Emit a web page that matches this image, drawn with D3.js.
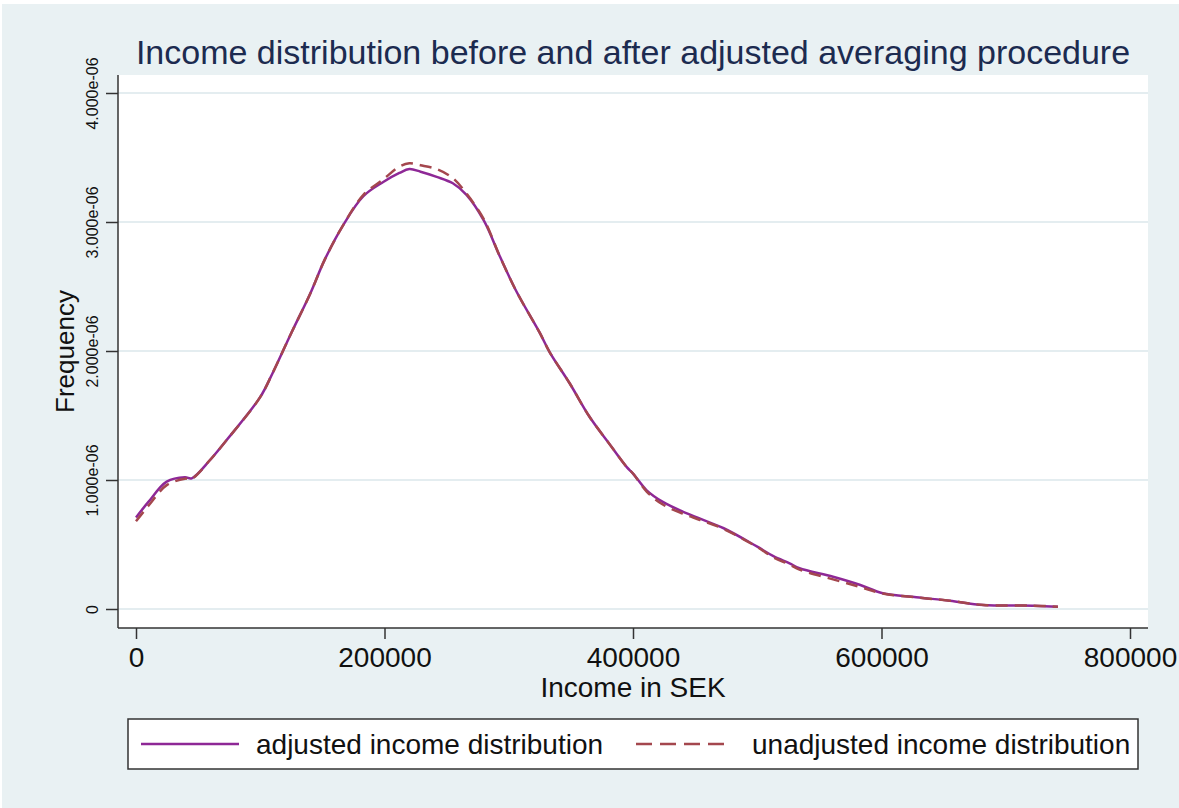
<!DOCTYPE html>
<html>
<head>
<meta charset="utf-8">
<script src="https://cdn.jsdelivr.net/npm/d3@7"></script>
<style>
  body { margin: 0; background: white; }
  text { font-family: "Liberation Sans", Arial, Helvetica, sans-serif; }
</style>
</head>
<body>
<script>
// Income distribution before / after adjusted averaging (Stata style kdensity plot)

// income grid in SEK, densities are in units of 1e-06
const incomes = [0, 10000, 24700, 39400, 44800, 59600, 73000, 99800, 110000, 125000,
                 140000, 152000, 167000, 183000, 199000, 212000, 220000, 229000, 242000, 255000,
                 266000, 280000, 293000, 306000, 325000, 333000, 349000, 365000, 381000, 395000,
                 400000, 411000, 424000, 440000, 454000, 473000, 500000, 513000, 526000, 534000,
                 561000, 583000, 601000, 628000, 655000, 682000, 722000, 742000];

const adjusted = [0.71, 0.83, 0.987, 1.021, 1.013, 1.155, 1.31, 1.64, 1.83, 2.14,
                  2.44, 2.71, 2.98, 3.20, 3.31, 3.38, 3.41, 3.39, 3.35, 3.30,
                  3.21, 3.01, 2.73, 2.465, 2.14, 1.99, 1.75, 1.49, 1.28, 1.10,
                  1.05, 0.92, 0.83, 0.755, 0.70, 0.626, 0.483, 0.41, 0.354, 0.316,
                  0.25, 0.186, 0.122, 0.091, 0.064, 0.031, 0.026, 0.018];

const unadjusted = [0.68, 0.80, 0.96, 1.01, 1.01, 1.155, 1.31, 1.64, 1.83, 2.14,
                    2.44, 2.71, 2.98, 3.21, 3.33, 3.43, 3.455, 3.44, 3.41, 3.34,
                    3.22, 3.02, 2.73, 2.465, 2.14, 1.99, 1.75, 1.49, 1.28, 1.10,
                    1.05, 0.91, 0.81, 0.74, 0.69, 0.62, 0.48, 0.40, 0.345, 0.305,
                    0.23, 0.17, 0.12, 0.09, 0.064, 0.031, 0.026, 0.018];

const unit = 1e-6;
const xTicks = [0, 200000, 400000, 600000, 800000];
const yTicks = [0, 1e-6, 2e-6, 3e-6, 4e-6];
const yTickLabels = ["0", "1.000e-06", "2.000e-06", "3.000e-06", "4.000e-06"];
const seriesNames = ["adjusted income distribution", "unadjusted income distribution"];

const outerWidth = 1179;
const outerHeight = 808;
const frame = {left: 118, right: 1148, top: 75, bottom: 628};

const bgColor = "#e9f1f3";
const colors = ["#8e2896", "#a4474e"];

const svg = d3.select("body").append("svg")
    .attr("width", outerWidth)
    .attr("height", outerHeight);

// graph region + plot region
svg.append("rect")
    .attr("x", 2).attr("y", 4)
    .attr("width", outerWidth - 2)
    .attr("height", outerHeight - 4)
    .attr("fill", bgColor);

svg.append("rect")
    .attr("x", frame.left).attr("y", frame.top)
    .attr("width", frame.right - frame.left)
    .attr("height", frame.bottom - frame.top)
    .attr("fill", "white");

const x = d3.scaleLinear().domain([0, 800000]).range([136, 1130]);
const y = d3.scaleLinear().domain([0, 4e-6]).range([609, 93]);

// gridlines
svg.append("g").selectAll("line")
    .data(yTicks)
    .enter().append("line")
    .attr("x1", frame.left).attr("x2", frame.right)
    .attr("y1", d => y(d)).attr("y2", d => y(d))
    .attr("stroke", "#e4edf0")
    .attr("stroke-width", 2);

// y axis
const yAxis = svg.append("g")
    .attr("transform", "translate(" + frame.left + ",0)")
    .call(d3.axisLeft(y).tickValues(yTicks).tickSize(12)
        .tickFormat((d, i) => yTickLabels[i]));
yAxis.select(".domain").remove();
yAxis.selectAll(".tick line").attr("stroke", "#333").attr("stroke-width", 1.5);
yAxis.selectAll(".tick text")
    .attr("x", null).attr("dy", null)
    .attr("text-anchor", "middle")
    .attr("transform", "translate(-20,0) rotate(-90)")
    .style("font-size", "16px")
    .attr("fill", "#111");

// x axis
const xAxis = svg.append("g")
    .attr("transform", "translate(0," + frame.bottom + ")")
    .call(d3.axisBottom(x).tickValues(xTicks).tickSize(11).tickPadding(8)
        .tickFormat(d3.format("d")));
xAxis.select(".domain").remove();
xAxis.selectAll(".tick line").attr("stroke", "#333").attr("stroke-width", 1.5);
xAxis.selectAll(".tick text").style("font-size", "28px").attr("fill", "#111");

// axis lines
svg.append("line")
    .attr("x1", frame.left).attr("x2", frame.left)
    .attr("y1", frame.top).attr("y2", frame.bottom)
    .attr("stroke", "#333").attr("stroke-width", 1.5);
svg.append("line")
    .attr("x1", frame.left).attr("x2", frame.right)
    .attr("y1", frame.bottom).attr("y2", frame.bottom)
    .attr("stroke", "#333").attr("stroke-width", 1.5);

// curves
const line = d3.line()
    .x(d => x(d[0]))
    .y(d => y(d[1] * unit))
    .curve(d3.curveCatmullRom.alpha(0.5));

svg.append("path")
    .datum(d3.zip(incomes, adjusted))
    .attr("d", line)
    .attr("fill", "none")
    .attr("stroke", colors[0])
    .attr("stroke-width", 2.5);

svg.append("path")
    .datum(d3.zip(incomes, unadjusted))
    .attr("d", line)
    .attr("fill", "none")
    .attr("stroke", colors[1])
    .attr("stroke-width", 2.5)
    .attr("stroke-dasharray", "12,7");

// titles
svg.append("text")
    .attr("x", 633).attr("y", 64)
    .attr("text-anchor", "middle")
    .style("font-size", "34px")
    .attr("fill", "#1c2b50")
    .text("Income distribution before and after adjusted averaging procedure");

svg.append("text")
    .attr("x", 633).attr("y", 697)
    .attr("text-anchor", "middle")
    .style("font-size", "28px")
    .attr("fill", "#111")
    .text("Income in SEK");

svg.append("text")
    .attr("transform", "translate(74," + ((frame.top + frame.bottom) / 2) + ") rotate(-90)")
    .attr("text-anchor", "middle")
    .style("font-size", "26px")
    .attr("fill", "#111")
    .text("Frequency");

// legend
const legend = svg.append("g");
legend.append("rect")
    .attr("x", 128).attr("y", 719)
    .attr("width", 1010).attr("height", 50)
    .attr("fill", "white")
    .attr("stroke", "#333")
    .attr("stroke-width", 1.5);

const legendItems = [
    {x1: 141, x2: 239, tx: 256, dash: null},
    {x1: 636, x2: 730, tx: 752, dash: "16,8"}
];
legendItems.forEach(function(item, i) {
    legend.append("line")
        .attr("x1", item.x1).attr("x2", item.x2)
        .attr("y1", 744).attr("y2", 744)
        .attr("stroke", colors[i])
        .attr("stroke-width", 2.5)
        .attr("stroke-dasharray", item.dash);
    legend.append("text")
        .attr("x", item.tx).attr("y", 754)
        .style("font-size", "28px")
        .attr("fill", "#111")
        .text(seriesNames[i]);
});
</script>
</body>
</html>
